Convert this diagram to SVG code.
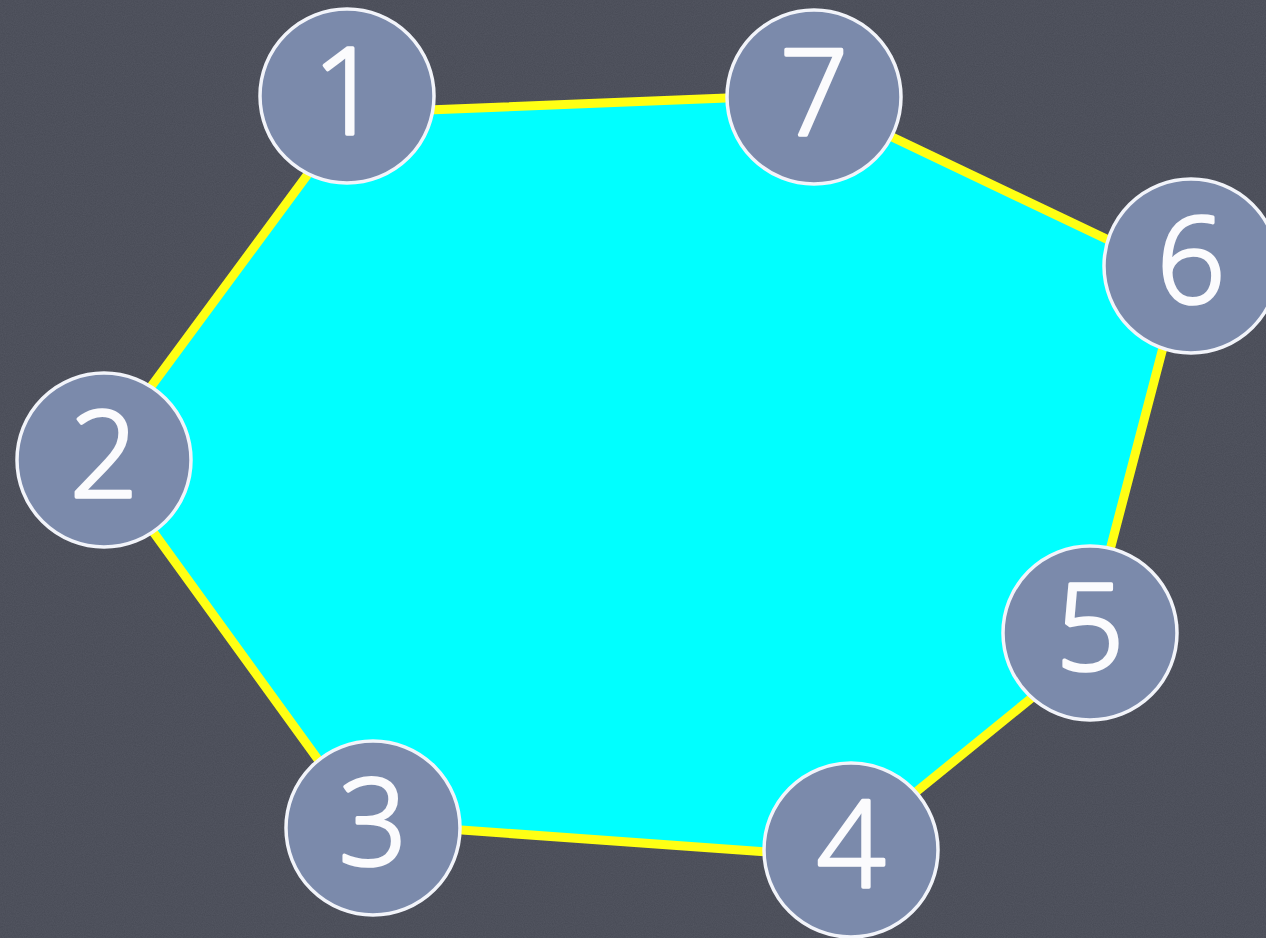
<svg xmlns="http://www.w3.org/2000/svg" width="1266" height="938" viewBox="0 0 1266 938">
<defs>
<filter id="grain" x="0" y="0" width="100%" height="100%">
<feTurbulence type="fractalNoise" baseFrequency="0.9" numOctaves="2" seed="3" result="n"/>
<feColorMatrix in="n" type="matrix" values="0 0 0 0 0.33  0 0 0 0 0.34  0 0 0 0 0.40  0 0 0 0.15 0"/>
</filter>
</defs>
<style>
.node circle{fill:#7b8aab;stroke:#f2f4fa;stroke-width:3.5}
.node text{font-family:"Open Sans","Liberation Sans",sans-serif;font-weight:300;font-size:120px;fill:#fbfbfd;stroke:#fbfbfd;stroke-width:3.5;stroke-linejoin:round;stroke-linecap:round;text-anchor:middle}
.poly{fill:#00ffff;stroke:#ffff14;stroke-width:9;stroke-linejoin:miter}
</style>
<rect width="1266" height="938" fill="#474a55"/>
<rect width="1266" height="938" filter="url(#grain)"/>
<g id="connectors">
<polygon class="poly" points="353,113 99,457 364,823 836,857 1082,657 1182,275 804,95"/>
</g>
<g id="node1" class="node"><circle cx="347" cy="96" r="87"/><text x="347" y="134">1</text></g>
<g id="node2" class="node"><circle cx="104" cy="460" r="87"/><text x="104" y="497">2</text></g>
<g id="node3" class="node"><circle cx="373" cy="828" r="87"/><text x="373" y="865">3</text></g>
<g id="node4" class="node"><circle cx="851" cy="850" r="87"/><text x="851" y="887">4</text></g>
<g id="node5" class="node"><circle cx="1090" cy="633" r="87"/><text x="1090" y="670">5</text></g>
<g id="node6" class="node"><circle cx="1191" cy="266" r="87"/><text x="1191" y="303">6</text></g>
<g id="node7" class="node"><circle cx="814" cy="97" r="87"/><text x="814" y="135">7</text></g>
</svg>
